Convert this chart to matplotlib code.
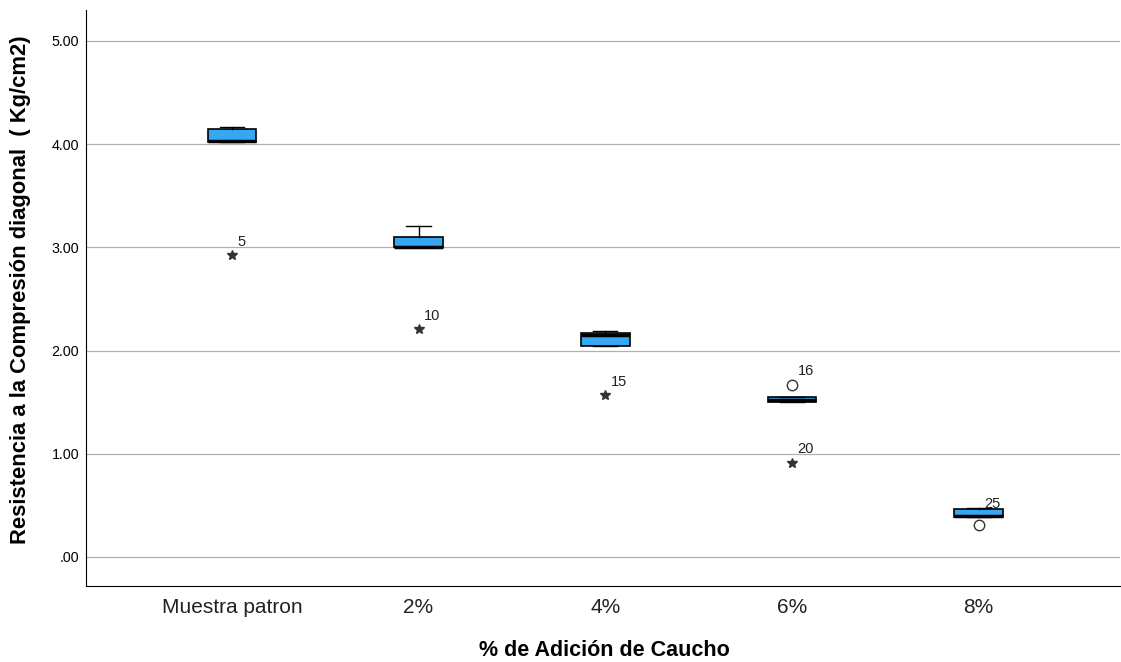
import matplotlib.pyplot as plt

plt.rcParams["font.family"] = ["Liberation Sans", "DejaVu Sans"]

groups = ["Muestra patron", "2%", "4%", "6%", "8%"]
whislo = [4.02, 3.00, 2.04, 1.50, 0.39]
q1 = [4.02, 3.00, 2.04, 1.50, 0.39]
med = [4.03, 3.00, 2.15, 1.52, 0.40]
q3 = [4.15, 3.10, 2.17, 1.55, 0.46]
whishi = [4.17, 3.21, 2.19, 1.55, 0.47]

# outliers: (group index, value, case label, kind)
out_group = [0, 1, 2, 3, 3, 4]
out_value = [2.93, 2.21, 1.57, 1.67, 0.91, 0.31]
out_label = ["5", "10", "15", "16", "20", "25"]
out_kind = ["*", "*", "*", "o", "*", "o"]
out_label_y = [2.98, 2.27, 1.63, 1.73, 0.98, 0.45]

stats = []
for i in range(len(groups)):
    stats.append({"whislo": whislo[i], "q1": q1[i], "med": med[i],
                  "q3": q3[i], "whishi": whishi[i], "fliers": []})

fig = plt.figure(figsize=(11.21, 6.62), dpi=100)
ax = fig.add_axes([0.0767, 0.115, 0.922, 0.870])
pos = list(range(1, len(groups) + 1))
ax.bxp(stats, positions=pos, widths=0.26, patch_artist=True, showfliers=False,
       boxprops=dict(facecolor="#35A7F3", edgecolor="black", linewidth=1.2),
       medianprops=dict(color="black", linewidth=2.5),
       whiskerprops=dict(color="black", linewidth=1),
       capprops=dict(color="black", linewidth=1), capwidths=0.13, zorder=3)

for g, v, lab, k, ly in zip(out_group, out_value, out_label, out_kind, out_label_y):
    x = pos[g]
    if k == "*":
        ax.plot(x, v, marker="*", color="#333333", markersize=7, linestyle="none", zorder=4)
    else:
        ax.plot(x, v, marker="o", markerfacecolor="white", markeredgecolor="#333333",
                markersize=7.5, linestyle="none", zorder=4)
    ax.text(x + 0.03, ly, lab, fontsize=10.5, color="#222222", ha="left", va="bottom")

ax.set_xlim(0.219, 5.754)
ax.set_ylim(-0.28, 5.30)
ax.set_yticks([0, 1, 2, 3, 4, 5])
ax.set_yticklabels([".00", "1.00", "2.00", "3.00", "4.00", "5.00"], fontsize=10.3)
ax.set_xticks(pos)
ax.set_xticklabels(groups, fontsize=15, color="#222222")
ax.tick_params(axis="y", length=0, pad=5)
ax.tick_params(axis="x", length=0, pad=9)
ax.yaxis.grid(True, color="#b0b0b0", linewidth=0.9)
ax.set_axisbelow(True)
for s in ["top", "right"]:
    ax.spines[s].set_visible(False)
ax.spines["left"].set_color("black")
ax.spines["bottom"].set_color("black")

ax.set_xlabel("% de Adición de Caucho", fontsize=15.5, fontweight="bold")
ax.set_ylabel("Resistencia a la Compresión diagonal  ( Kg/cm2)", fontsize=15.8,
              fontweight="bold")
ax.xaxis.set_label_coords(0.502, -0.094)
ax.yaxis.set_label_coords(-0.053, 0.514)

fig.savefig("out.png", dpi=100)
